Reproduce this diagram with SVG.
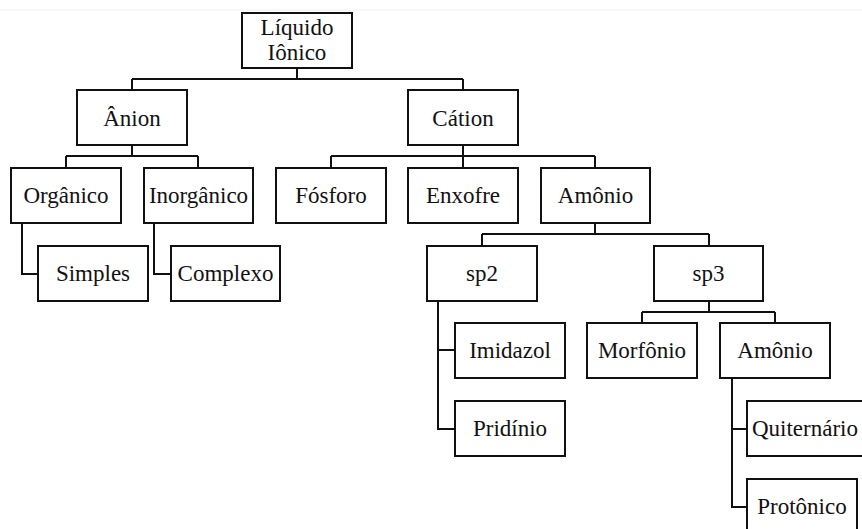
<svg xmlns="http://www.w3.org/2000/svg" width="862" height="529" viewBox="0 0 862 529">
<style>
rect.n{fill:#fff;stroke:#111;stroke-width:2}
text{font-family:'Liberation Serif',serif;font-size:23px;fill:#111;text-anchor:middle}
.c{fill:none;stroke:#111;stroke-width:2}
</style>
<rect width="862" height="529" fill="#fff"/>
<line x1="0" y1="10" x2="862" y2="10" stroke="#f3f3f3" stroke-width="1"/>
<g id="connectors">
<path class="c" d="M297 68V79M132 79H463M132 79V90M463 79V90"/>
<path class="c" d="M132 145V156M66 156H198M66 156V168M198 156V168"/>
<path class="c" d="M463 145V168M331 156H595M331 156V168M595 156V168"/>
<path class="c" d="M22 223V274H38"/>
<path class="c" d="M154 223V274H171"/>
<path class="c" d="M595 223V234M482 234H709M482 234V246M709 234V246"/>
<path class="c" d="M438 301V429H455M438 350H455"/>
<path class="c" d="M709 301V312M642 312H775M642 312V323M775 312V323"/>
<path class="c" d="M732 378V507H747M732 429H747"/>
</g>
<g font-family="Liberation Serif, serif">
<g id="root"><rect class="n" x="242" y="13" width="110" height="55"/><text x="297" y="35">Líquido</text><text x="297" y="60">Iônico</text></g>
<g id="anion"><rect class="n" x="77" y="90" width="110" height="55"/><text x="132" y="126">Ânion</text></g>
<g id="cation"><rect class="n" x="408" y="90" width="110" height="55"/><text x="463" y="126">Cátion</text></g>
<g id="organico"><rect class="n" x="11" y="168" width="110" height="55"/><text x="66" y="203">Orgânico</text></g>
<g id="inorganico"><rect class="n" x="144" y="168" width="109" height="55"/><text x="198.5" y="203">Inorgânico</text></g>
<g id="fosforo"><rect class="n" x="276" y="168" width="110" height="55"/><text x="331" y="203">Fósforo</text></g>
<g id="enxofre"><rect class="n" x="408" y="168" width="110" height="55"/><text x="463" y="203">Enxofre</text></g>
<g id="amonio"><rect class="n" x="541" y="168" width="109" height="55"/><text x="595.5" y="203">Amônio</text></g>
<g id="simples"><rect class="n" x="38" y="246" width="110" height="55"/><text x="93" y="281">Simples</text></g>
<g id="complexo"><rect class="n" x="171" y="246" width="109" height="55"/><text x="225.5" y="281">Complexo</text></g>
<g id="sp2"><rect class="n" x="427" y="246" width="110" height="55"/><text x="482" y="281">sp2</text></g>
<g id="sp3"><rect class="n" x="654" y="246" width="109" height="55"/><text x="708.5" y="281">sp3</text></g>
<g id="imidazol"><rect class="n" x="455" y="323" width="110" height="55"/><text x="510" y="358">Imidazol</text></g>
<g id="pridinio"><rect class="n" x="455" y="401" width="110" height="55"/><text x="510" y="436">Pridínio</text></g>
<g id="morfonio"><rect class="n" x="587" y="323" width="110" height="55"/><text x="642" y="358">Morfônio</text></g>
<g id="amonio2"><rect class="n" x="720" y="323" width="110" height="55"/><text x="775" y="358">Amônio</text></g>
<g id="quiternario"><rect class="n" x="747" y="401" width="125" height="55"/><text x="805" y="436">Quiternário</text></g>
<g id="protonico"><rect class="n" x="747" y="479" width="110" height="60"/><text x="802" y="514">Protônico</text></g>
</g>
</svg>
